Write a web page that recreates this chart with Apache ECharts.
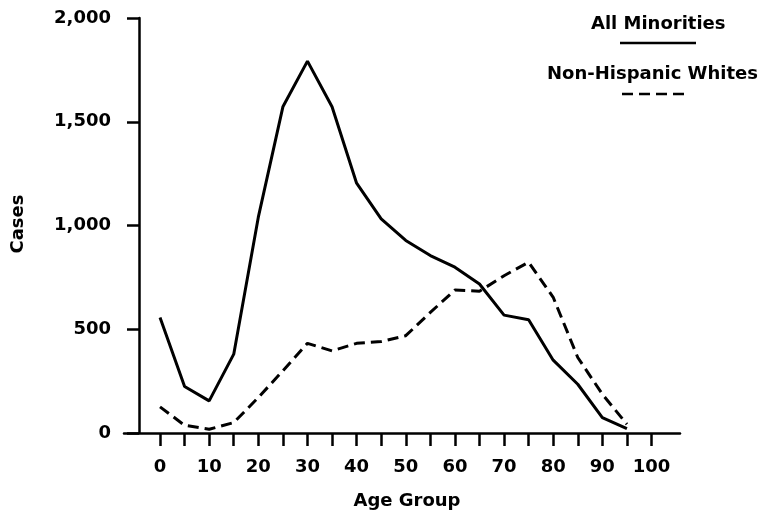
<!DOCTYPE html>
<html>
<head>
<meta charset="utf-8">
<script src="https://cdn.jsdelivr.net/npm/echarts@6/dist/echarts.min.js"></script>
<style>
html,body{margin:0;padding:0;background:#fff;}
#chart{width:779px;height:517px;}
</style>
</head>
<body>
<div id="chart"></div>
<script>
const ageGroups = [0,5,10,15,20,25,30,35,40,45,50,55,60,65,70,75,80,85,90,95];
const allMinorities = [557,224,155,380,1040,1572,1792,1572,1204,1032,928,855,799,718,568,546,351,235,74,21];
const nonHispanicWhites = [126,37,18,50,171,300,432,396,432,441,469,581,689,683,758,823,654,364,187,42];
const xTickValues = [0,5,10,15,20,25,30,35,40,45,50,55,60,65,70,75,80,85,90,95,100];
const xLabelValues = [0,10,20,30,40,50,60,70,80,90,100];
const seriesNames = ['All Minorities','Non-Hispanic Whites'];

const FONT = 'DejaVu Sans';
const chart = echarts.init(document.getElementById('chart'), null, {renderer:'canvas'});
const toPairs = (ys) => ageGroups.map((a,i)=>[a, ys[i]]);

chart.setOption({
  backgroundColor:'#fff',
  animation:false,
  grid:{left:124, right:99, top:18, bottom:84, containLabel:false},
  xAxis:{
    type:'value', min:-7.33, max:105.8,
    axisLine:{onZero:false, lineStyle:{color:'#000', width:2.5}},
    axisTick:{show:true, length:13, lineStyle:{color:'#000', width:2.5}, customValues:xTickValues},
    axisLabel:{color:'#000', fontFamily:FONT, fontWeight:'bold', fontSize:18, margin:25, customValues:xLabelValues},
    splitLine:{show:false}
  },
  yAxis:{
    type:'value', min:0, max:2000, interval:500, offset:-15,
    axisLine:{show:true, onZero:false, lineStyle:{color:'#000', width:2.5}},
    axisTick:{show:true, length:12, lineStyle:{color:'#000', width:2.5}},
    axisLabel:{color:'#000', fontFamily:FONT, fontWeight:'bold', fontSize:18, margin:28,
      formatter:(v)=>v.toLocaleString('en-US')},
    splitLine:{show:false}
  },
  series:[
    {name:seriesNames[0], type:'line', data:toPairs(allMinorities), showSymbol:false,
     lineStyle:{color:'#000', width:3}},
    {name:seriesNames[1], type:'line', data:toPairs(nonHispanicWhites), showSymbol:false,
     lineStyle:{color:'#000', width:3, type:[11,6]}}
  ],
  graphic:[
    {type:'text', left:591, top:15, style:{text:seriesNames[0], font:'bold 18px "DejaVu Sans"', fill:'#000'}},
    {type:'line', shape:{x1:620,y1:43,x2:696,y2:43}, style:{stroke:'#000', lineWidth:2.5}},
    {type:'text', left:547, top:65, style:{text:seriesNames[1], font:'bold 18px "DejaVu Sans"', fill:'#000'}},
    {type:'line', shape:{x1:622,y1:94,x2:690,y2:94}, style:{stroke:'#000', lineWidth:2.5, lineDash:[11,6]}},
    {type:'text', x:407, y:501, style:{text:'Age Group', font:'bold 18px "DejaVu Sans"', fill:'#000', align:'center', verticalAlign:'middle'}},
    {type:'text', x:18, y:224, rotation:Math.PI/2, style:{text:'Cases', font:'bold 18px "DejaVu Sans"', fill:'#000', align:'center', verticalAlign:'middle'}}
  ]
});
</script>
</body>
</html>
